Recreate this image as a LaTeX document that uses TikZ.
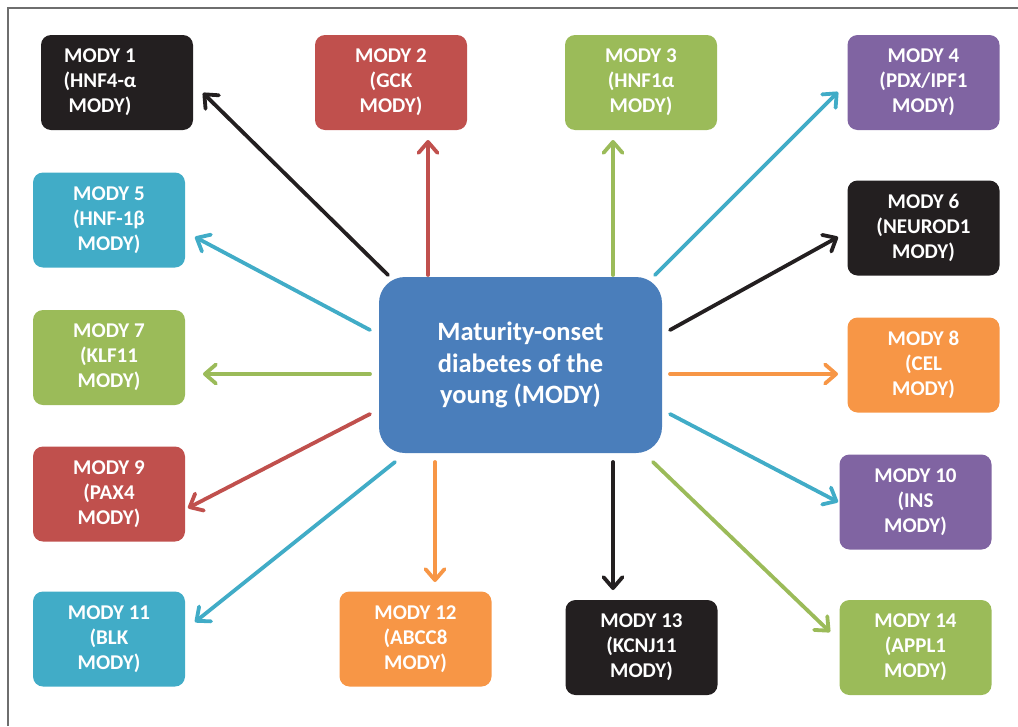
\documentclass[tikz,border=0pt]{standalone}
\usepackage{fontspec}
\setmainfont{Carlito}
\usetikzlibrary{arrows.meta}
\definecolor{mblack}{HTML}{231F20}
\definecolor{mred}{HTML}{C0504D}
\definecolor{mgreen}{HTML}{9BBB59}
\definecolor{mpurple}{HTML}{8064A2}
\definecolor{mcyan}{HTML}{41ACC7}
\definecolor{morange}{HTML}{F79646}
\definecolor{mblue}{HTML}{4A7EBB}
\definecolor{frame}{HTML}{6E6E6E}
\tikzset{
  mbox/.style={rounded corners=10pt, inner sep=0pt, minimum width=152pt, minimum height=95pt,
    text=white, align=center, font=\fontsize{21}{25}\selectfont\bfseries},
  mtext/.style={inner sep=0pt, text=white, align=center, font=\fontsize{21}{25}\selectfont\bfseries},
  cbox/.style={rounded corners=26pt, inner sep=0pt, minimum width=283pt, minimum height=176pt,
    fill=mblue, text=white, align=center, font=\fontsize{26.5}{31.7}\selectfont\bfseries},
  conn/.style={line width=3.8pt, line cap=round,
    -{Straight Barb[length=11pt,width=19pt,line width=3.8pt,round]}}
}
\begin{document}
\begin{tikzpicture}[x=1pt,y=-1pt]
\useasboundingbox (0,0) rectangle (1018,726);
\draw[frame, line width=2pt] (8,726) -- (8,8) -- (1018,8);

\node[cbox] (c) at (520.5,365) {Maturity-onset\\diabetes of the\\young (MODY)};

\node[mbox, fill=mblack] (m1) at (117,82.5) {};
\node[mtext] (m1t) at ([xshift=-17pt]m1.center) {MODY 1\\(HNF4-α\\MODY)};
\node[mbox, fill=mred] (m2) at (391,82.5) {MODY 2\\(GCK\\MODY)};
\node[mbox, fill=mgreen] (m3) at (641,82.5) {MODY 3\\(HNF1α\\MODY)};
\node[mbox, fill=mpurple] (m4) at (923.5,82.5) {MODY 4\\(PDX/IPF1\\MODY)};
\node[mbox, fill=mcyan] (m5) at (109,220) {MODY 5\\(HNF-1β\\MODY)};
\node[mbox, fill=mblack] (m6) at (923.5,228) {MODY 6\\(NEUROD1\\MODY)};
\node[mbox, fill=mgreen] (m7) at (109,357.5) {MODY 7\\(KLF11\\MODY)};
\node[mbox, fill=morange] (m8) at (923.5,365) {MODY 8\\(CEL\\MODY)};
\node[mbox, fill=mred] (m9) at (109,494) {MODY 9\\(PAX4\\MODY)};
\node[mbox, fill=mpurple] (m10) at (915.5,502) {MODY 10\\(INS\\MODY)};
\node[mbox, fill=mcyan] (m11) at (109,639) {MODY 11\\(BLK\\MODY)};
\node[mbox, fill=morange] (m12) at (415.5,639) {MODY 12\\(ABCC8\\MODY)};
\node[mbox, fill=mblack] (m13) at (641.5,647.5) {MODY 13\\(KCNJ11\\MODY)};
\node[mbox, fill=mgreen] (m14) at (915.5,647.5) {MODY 14\\(APPL1\\MODY)};

\coordinate (s1) at (388,275);  \coordinate (e1) at (203,93);
\coordinate (s2) at (428,275);  \coordinate (e2) at (428,140);
\coordinate (s3) at (613,275);  \coordinate (e3) at (613,140);
\coordinate (s4) at (655,275);  \coordinate (e4) at (838,92);
\coordinate (s5) at (370,330);  \coordinate (e5) at (195,237);
\coordinate (s6) at (670,330);  \coordinate (e6) at (838,237);
\coordinate (s7) at (370,374);  \coordinate (e7) at (203,374);
\coordinate (s8) at (670,374);  \coordinate (e8) at (838,374);
\coordinate (s9) at (370,414);  \coordinate (e9) at (188,508);
\coordinate (s10) at (670,414); \coordinate (e10) at (838,502);
\coordinate (s11) at (395,462); \coordinate (e11) at (195,622);
\coordinate (s12) at (435,462); \coordinate (e12) at (435,582);
\coordinate (s13) at (613,462); \coordinate (e13) at (613,590);
\coordinate (s14) at (653,462); \coordinate (e14) at (830,632);

\draw[conn, mblack] (s1) -- (e1);
\draw[conn, mred] (s2) -- (e2);
\draw[conn, mgreen] (s3) -- (e3);
\draw[conn, mcyan] (s4) -- (e4);
\draw[conn, mcyan] (s5) -- (e5);
\draw[conn, mblack] (s6) -- (e6);
\draw[conn, mgreen] (s7) -- (e7);
\draw[conn, morange] (s8) -- (e8);
\draw[conn, mred] (s9) -- (e9);
\draw[conn, mcyan] (s10) -- (e10);
\draw[conn, mcyan] (s11) -- (e11);
\draw[conn, morange] (s12) -- (e12);
\draw[conn, mblack] (s13) -- (e13);
\draw[conn, mgreen] (s14) -- (e14);
\end{tikzpicture}
\end{document}
